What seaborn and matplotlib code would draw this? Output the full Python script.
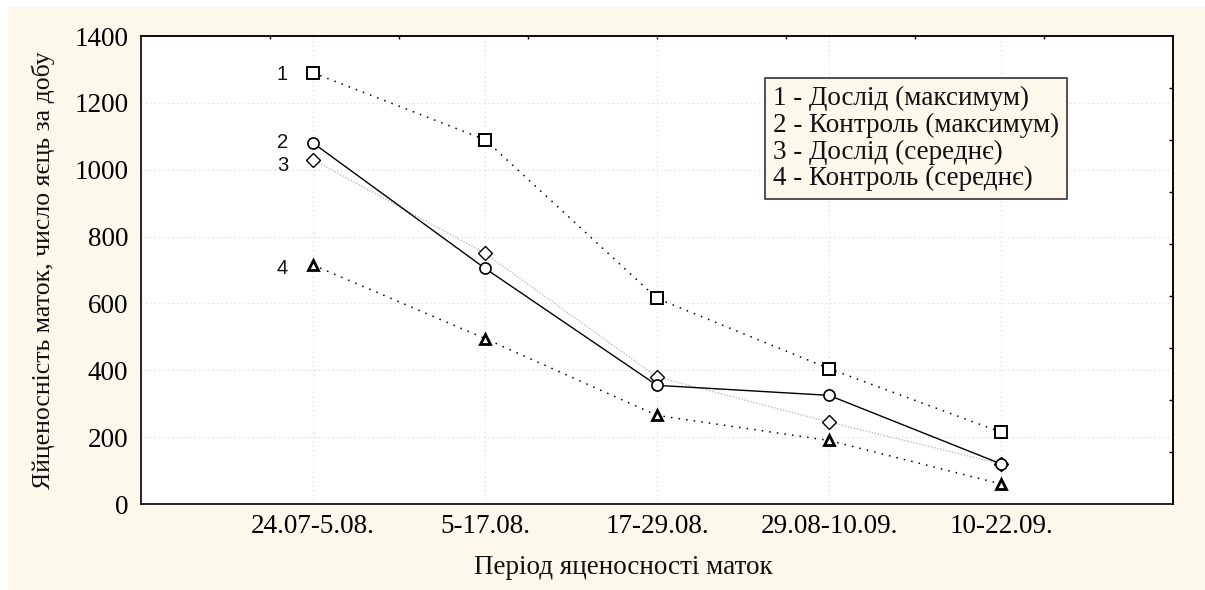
import numpy as np
import pandas as pd
import matplotlib
matplotlib.use("Agg")
import matplotlib.pyplot as plt
from matplotlib.ticker import NullFormatter
from matplotlib.patches import Rectangle
import seaborn as sns

# Egg-laying periods of the queens
periods = ["24.07-5.08.", "5-17.08.", "17-29.08.", "29.08-10.09.", "10-22.09."]

# Eggs per day
exp_max = [1290, 1090, 615, 405, 215]     # 1 - experiment (maximum)
ctrl_max = [1080, 705, 355, 325, 120]     # 2 - control (maximum)
exp_mean = [1030, 750, 380, 245, 120]     # 3 - experiment (mean)
ctrl_mean = [715, 495, 265, 190, 60]      # 4 - control (mean)

legend_lines = [
    "1 - Дослід (максимум)",
    "2 - Контроль (максимум)",
    "3 - Дослід (середнє)",
    "4 - Контроль (середнє)",
]
y_ticks = [0, 200, 400, 600, 800, 1000, 1200, 1400]

x_label = "Період яценосності маток"
y_label = "Яйценосність маток, число яєць за добу"

CREAM = "#fdf8ec"
FS = 19.5

sns.set_theme(style="white")
plt.rcParams["font.family"] = ["Liberation Serif", "DejaVu Serif"]

fig = plt.figure(figsize=(12.05, 5.90), dpi=100, facecolor="white")
# cream panel behind the chart
fig.patches.append(Rectangle((8 / 1205, 0), 1, 1 - 7 / 590,
                             transform=fig.transFigure, facecolor=CREAM,
                             edgecolor="none", zorder=-10))

ax = fig.add_axes([141 / 1205, 1 - 504 / 590, 1032 / 1205, 468 / 590])
ax.set_facecolor("white")

df = pd.DataFrame({
    "pos": np.arange(len(periods)),
    "period": periods,
    "exp_max": exp_max,
    "ctrl_max": ctrl_max,
    "exp_mean": exp_mean,
    "ctrl_mean": ctrl_mean,
})

styles = {
    "exp_mean": dict(color="#bdbdbd", linestyle=(0, (1, 1.2)), linewidth=1.0,
                     marker="D", markersize=6.8, markeredgecolor="black",
                     markerfacecolor="white", markeredgewidth=1.0, zorder=3),
    "exp_max": dict(color="black", linestyle=(0, (1, 4)), linewidth=1.1,
                    marker="s", markersize=8.0, markeredgecolor="black",
                    markerfacecolor="white", markeredgewidth=1.4, zorder=4),
    "ctrl_mean": dict(color="black", linestyle=(0, (1, 4)), linewidth=1.1,
                      marker="^", markersize=7.5, markeredgecolor="black",
                      markerfacecolor="white", markeredgewidth=2.0, zorder=4),
    "ctrl_max": dict(color="black", linestyle="-", linewidth=1.0,
                     marker="o", markersize=8.0, markeredgecolor="black",
                     markerfacecolor="white", markeredgewidth=1.2, zorder=5),
}
for col, kw in styles.items():
    sns.lineplot(data=df, x="pos", y=col, ax=ax, sort=False, legend=False, **kw)

# series numbers next to the first points (2 and 3 nudged apart)
number_shift = {1: 0, 2: 2, 3: -2.5, 4: -1}
for num, col in enumerate(["exp_max", "ctrl_max", "exp_mean", "ctrl_mean"], start=1):
    ax.annotate(str(num), xy=(0, df[col].iloc[0]), xytext=(-18, number_shift[num]),
                textcoords="offset points", ha="right", va="center_baseline",
                fontsize=14.5, family=["Liberation Sans", "DejaVu Sans"],
                color="#111111")

ax.set_xlim(-1, 5)
ax.set_ylim(0, 1400)
ax.set_xticks(df["pos"])
ax.set_xticklabels(periods)
ax.set_yticks(y_ticks)
ax.tick_params(axis="both", labelsize=FS, colors="black")
ax.tick_params(axis="y", length=0, pad=9)
ax.tick_params(axis="x", direction="in", length=2.5, width=1, pad=7)

ax.grid(True, linestyle=(0, (1, 3)), color="#d4d4d4", linewidth=0.8)
ax.set_axisbelow(True)

for sp in ax.spines.values():
    sp.set_color("black")
    sp.set_linewidth(1.2)
    sp.set_visible(True)

# plain tick marks on the opposite sides
top = ax.secondary_xaxis("top")
top.set_xticks([-1 + 0.75 * k for k in range(1, 8)])
top.xaxis.set_major_formatter(NullFormatter())
top.tick_params(direction="in", length=2.5, width=1, colors="black")
top.spines["top"].set_linewidth(1.2)

right = ax.secondary_yaxis("right")
right.set_yticks([1400 / 9 * k for k in range(1, 9)])
right.yaxis.set_major_formatter(NullFormatter())
right.tick_params(direction="in", length=3, width=1, colors="black")
right.spines["right"].set_linewidth(1.2)

ax.set_xlabel(x_label, fontsize=FS, color="#111111")
ax.xaxis.set_label_coords((623 - 141) / 1032, -0.108)
ax.set_ylabel(y_label, fontsize=18.5, color="#111111")
ax.yaxis.set_label_coords(-0.083, 0.5)

ax.text(0.6124, 0.893, "\n".join(legend_lines), transform=ax.transAxes,
        ha="left", va="top", fontsize=FS, linespacing=1.08, color="#111111",
        bbox=dict(boxstyle="square,pad=0.3", facecolor=CREAM,
                  edgecolor="#333333", linewidth=1.2), zorder=6)

fig.savefig("out.png", dpi=100, facecolor=fig.get_facecolor())
